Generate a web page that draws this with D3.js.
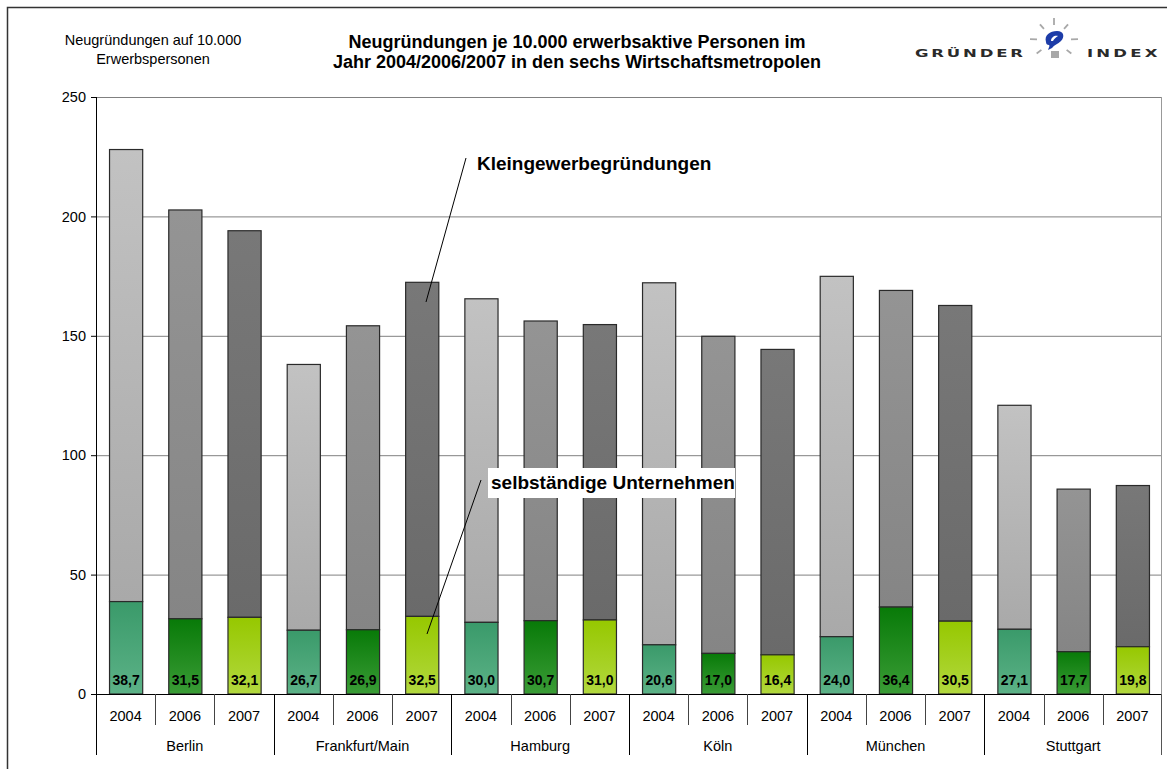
<!DOCTYPE html>
<html>
<head>
<meta charset="utf-8">
<script src="https://cdn.jsdelivr.net/npm/d3@7"></script>
<style>
  body { margin: 0; background: #fff; }
  svg { display: block; font-family: "Liberation Sans", Arial, sans-serif; }
</style>
</head>
<body>
<div id="viz"></div>
<script>
// data
var cities = ["Berlin", "Frankfurt/Main", "Hamburg", "Köln", "München", "Stuttgart"];
var years = ["2004", "2006", "2007"];
// selbständige Unternehmen (green part)
var selbst = [38.7, 31.5, 32.1, 26.7, 26.9, 32.5, 30.0, 30.7, 31.0, 20.6, 17.0, 16.4, 24.0, 36.4, 30.5, 27.1, 17.7, 19.8];
// Kleingewerbegründungen (grey part, stacked on top)
var klein = [189.3, 171.2, 161.9, 111.3, 127.3, 139.9, 135.5, 125.5, 123.7, 151.6, 132.8, 127.9, 150.9, 132.6, 132.2, 93.8, 68.1, 67.5];
var yTicks = [0, 50, 100, 150, 200, 250];

var W = 1167, H = 769;
var margin = {top: 97, left: 96, right: 5};
var plotW = W - margin.left - margin.right;

var rows = [];
cities.forEach(function(c, ci){
  years.forEach(function(y, yi){
    var i = ci * 3 + yi;
    rows.push({key: c + "|" + y, city: c, year: y, yi: yi, selbst: selbst[i], klein: klein[i]});
  });
});

var svg = d3.select("#viz").append("svg").attr("width", W).attr("height", H);

// gradients
var defs = svg.append("defs");
var greenStops = [["#3a9a6a", "#5cb287"], ["#087a08", "#3a9c36"], ["#96c800", "#b2d83e"]];
var greyStops = [["#c2c2c2", "#a9a9a9"], ["#949494", "#858585"], ["#787878", "#6a6a6a"]];
function grad(id, c){
  var g = defs.append("linearGradient").attr("id", id).attr("x1", 0).attr("y1", 0).attr("x2", 0).attr("y2", 1);
  g.append("stop").attr("offset", "0%").attr("stop-color", c[0]);
  g.append("stop").attr("offset", "100%").attr("stop-color", c[1]);
}
years.forEach(function(y, i){ grad("green" + i, greenStops[i]); grad("grey" + i, greyStops[i]); });

// outer frame
svg.append("rect").attr("x", 7.5).attr("y", 7.5).attr("width", W + 20).attr("height", H + 20)
    .style("fill", "none").style("stroke", "#333").style("stroke-width", 1.5);

var g = svg.append("g").attr("transform", "translate(" + margin.left + "," + margin.top + ")");

var x = d3.scaleBand().domain(rows.map(function(d){ return d.key; })).range([0, plotW]).paddingInner(0.44).paddingOuter(0.22);
var xCity = d3.scaleBand().domain(cities).range([0, plotW]);
var y = d3.scaleLinear().domain([0, 250]).range([597, 0]);

// gridlines
g.append("g").selectAll("line").data(yTicks.filter(function(t){ return t > 0; })).enter().append("line")
    .attr("x1", 0).attr("x2", plotW)
    .attr("y1", function(d){ return y(d) + 0.5; }).attr("y2", function(d){ return y(d) + 0.5; })
    .style("stroke", "#808080").style("stroke-width", 1);

// right plot border
g.append("line").attr("x1", plotW - 0.5).attr("x2", plotW - 0.5).attr("y1", 0).attr("y2", y(0) + 61)
    .style("stroke", "#999").style("stroke-width", 1);

// y axis
var yAxis = g.append("g").call(d3.axisLeft(y).tickValues(yTicks).tickSize(5).tickPadding(5));
yAxis.select(".domain").attr("d", "M0.5,0V" + y(0)).style("stroke", "#000");
yAxis.selectAll(".tick line").style("stroke", "#000");
yAxis.selectAll("text").style("font-size", "14.5px").style("fill", "#000").style("font-family", "Liberation Sans, Arial, sans-serif");

// bars
var bar = g.append("g").selectAll("g").data(rows).enter().append("g");
bar.append("rect")
    .attr("x", function(d){ return x(d.key) + 0.5; })
    .attr("width", x.bandwidth())
    .attr("y", function(d){ return y(d.selbst + d.klein); })
    .attr("height", function(d){ return y(d.selbst) - y(d.selbst + d.klein); })
    .style("fill", function(d){ return "url(#grey" + d.yi + ")"; })
    .style("stroke", "#2a2a2a").style("stroke-width", 1.2);
bar.append("rect")
    .attr("x", function(d){ return x(d.key) + 0.5; })
    .attr("width", x.bandwidth())
    .attr("y", function(d){ return y(d.selbst); })
    .attr("height", function(d){ return y(0) - y(d.selbst); })
    .style("fill", function(d){ return "url(#green" + d.yi + ")"; })
    .style("stroke", "#2a2a2a").style("stroke-width", 1.2);
bar.append("text")
    .attr("x", function(d){ return x(d.key) + x.bandwidth() / 2 + 0.5; })
    .attr("y", y(0) - 9)
    .style("text-anchor", "middle").style("font-weight", "bold").style("font-size", "14px").style("fill", "#000")
    .text(function(d){ return d3.format(".1f")(d.selbst).replace(".", ","); });

// baseline
g.append("line").attr("x1", -5).attr("x2", plotW).attr("y1", y(0) + 0.5).attr("y2", y(0) + 0.5)
    .style("stroke", "#000").style("stroke-width", 1);

// category axis: years and cities
var step = x.step();
var xa = g.append("g").attr("transform", "translate(0," + y(0) + ")");
xa.selectAll("line.yr").data(rows).enter().append("line")
    .attr("x1", function(d){ return Math.round(x(d.key) - x.paddingOuter() * step) + 0.5; })
    .attr("x2", function(d){ return Math.round(x(d.key) - x.paddingOuter() * step) + 0.5; })
    .attr("y1", 0).attr("y2", function(d){ return d.yi === 0 ? 61 : 31; })
    .style("stroke", function(d){ return d.yi === 0 ? "#000" : "#444"; }).style("stroke-width", 1);
xa.selectAll("text.yr").data(rows).enter().append("text")
    .attr("x", function(d){ return x(d.key) + x.bandwidth() / 2; })
    .attr("y", 27)
    .style("text-anchor", "middle").style("font-size", "14.5px").style("fill", "#000")
    .text(function(d){ return d.year; });
xa.selectAll("text.city").data(cities).enter().append("text")
    .attr("x", function(d){ return xCity(d) + xCity.bandwidth() / 2; })
    .attr("y", 57)
    .style("text-anchor", "middle").style("font-size", "14.5px").style("fill", "#000")
    .text(function(d){ return d; });
xa.append("line").attr("x1", plotW - 0.5).attr("x2", plotW - 0.5).attr("y1", 0).attr("y2", 61)
    .style("stroke", "#555");

// titles
var title = svg.append("text").attr("x", 577).attr("y", 48)
    .style("text-anchor", "middle").style("font-weight", "bold").style("font-size", "18px").style("fill", "#000");
title.append("tspan").attr("x", 577).text("Neugründungen je 10.000 erwerbsaktive Personen im");
title.append("tspan").attr("x", 577).attr("dy", 20).text("Jahr 2004/2006/2007 in den sechs Wirtschaftsmetropolen");

var yt = svg.append("text").attr("x", 153).attr("y", 45)
    .style("text-anchor", "middle").style("font-size", "14.5px").style("fill", "#000");
yt.append("tspan").attr("x", 153).text("Neugründungen auf 10.000");
yt.append("tspan").attr("x", 153).attr("dy", 19).text("Erwerbspersonen");

// logo
var logo = svg.append("g").style("font-family", "DejaVu Sans, sans-serif");
logo.append("text").attr("transform", "translate(915,57) scale(1.5,1)").attr("textLength", 72).attr("lengthAdjust", "spacing")
    .style("font-weight", "bold").style("font-size", "11px").style("fill", "#2a2a2a").text("GRÜNDER");
logo.append("text").attr("transform", "translate(1087,57) scale(1.5,1)").attr("textLength", 47).attr("lengthAdjust", "spacing")
    .style("font-weight", "bold").style("font-size", "11px").style("fill", "#2a2a2a").text("INDEX");
var bx = 1054, by = 40;
[[-90, 15, 22], [-48, 15, 21], [-132, 15, 21], [-2, 17, 24], [-178, 17, 24], [38, 16, 22], [142, 16, 22]].forEach(function(r){
  var a = r[0] * Math.PI / 180;
  logo.append("line")
      .attr("x1", bx + Math.cos(a) * r[1]).attr("y1", by + Math.sin(a) * r[1])
      .attr("x2", bx + Math.cos(a) * r[2]).attr("y2", by + Math.sin(a) * r[2])
      .style("stroke", "#a8a8a8").style("stroke-width", 1.8);
});
// bulb: blue blob with a tail to lower left
logo.append("path")
    .attr("d", "M1046,42 C1044,35 1050,31 1057,31 C1064,31 1065,37 1061,41 C1058,44 1054,45 1052,48 L1048,50 C1049,47 1050,46 1049,45 C1047,45 1046,44 1046,42 Z")
    .style("fill", "#1d3ca8");
logo.append("path")
    .attr("d", "M1051,41 C1051,37 1055,35 1058,36 C1056,37 1054,39 1053,41 Z")
    .style("fill", "#fff");
logo.append("rect").attr("x", 1051).attr("y", 51).attr("width", 8).attr("height", 7).style("fill", "#a8a8a8");

// annotations
svg.append("line").attr("x1", 466).attr("y1", 158).attr("x2", 426).attr("y2", 302)
    .style("stroke", "#000").style("stroke-width", 1);
svg.append("text").attr("x", 477).attr("y", 170).style("font-weight", "bold").style("font-size", "19px")
    .style("fill", "#000").text("Kleingewerbegründungen");

svg.append("rect").attr("x", 488).attr("y", 468).attr("width", 247).attr("height", 30).style("fill", "#fff");
svg.append("line").attr("x1", 481).attr("y1", 480).attr("x2", 427).attr("y2", 634)
    .style("stroke", "#000").style("stroke-width", 1);
svg.append("text").attr("x", 491).attr("y", 489).style("font-weight", "bold").style("font-size", "19px")
    .style("fill", "#000").text("selbständige Unternehmen");
</script>
</body>
</html>
